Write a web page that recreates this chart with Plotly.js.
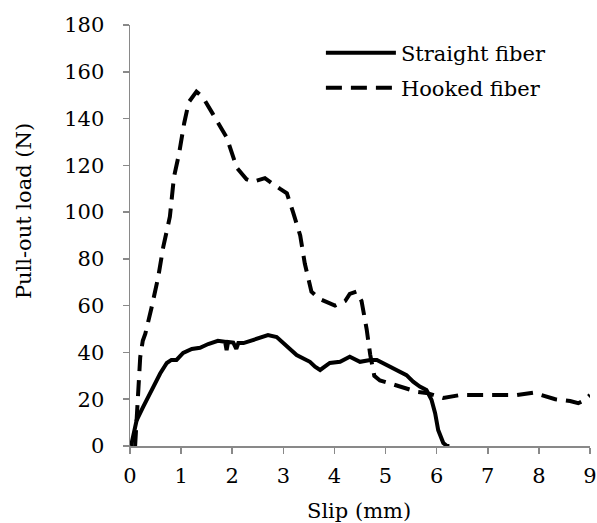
<!DOCTYPE html>
<html>
<head>
<meta charset="utf-8">
<script src="https://cdn.plot.ly/plotly-3.0.1.min.js"></script>
<style>
html,body{margin:0;padding:0;background:#fff;}
</style>
</head>
<body>
<div id="chart" style="width:597px;height:523px;"></div>
<script>
const straightX = [0.02,0.13,0.26,0.42,0.59,0.72,0.81,0.91,1.04,1.21,1.37,1.53,1.72,1.86,1.89,1.92,2.02,2.08,2.12,2.22,2.41,2.61,2.70,2.87,3.07,3.26,3.52,3.62,3.72,3.91,4.11,4.30,4.50,4.70,4.83,5.02,5.15,5.41,5.54,5.67,5.80,5.90,5.97,6.03,6.13,6.20,6.25];
const straightY = [0,11,16.8,24,31,35.5,36.8,36.8,39.8,41.5,42,43.6,45,44.6,41,44.5,44.2,41.5,44,44,45.3,46.7,47.4,46.6,42.5,38.9,36,33.9,32.5,35.5,36,38.2,36,36.8,36.8,34.6,33.3,30.3,27.5,25.4,23.9,19.7,14,6.8,1.3,0,0];
const hookedX = [0.10,0.15,0.2,0.25,0.3,0.42,0.55,0.65,0.78,0.86,0.96,1.06,1.15,1.30,1.43,1.62,1.89,2.09,2.28,2.41,2.64,2.93,3.07,3.19,3.33,3.42,3.55,3.70,3.91,4.01,4.21,4.30,4.43,4.53,4.63,4.70,4.78,4.89,5.05,5.34,5.61,5.80,6.03,6.13,6.46,6.72,7.10,7.24,7.57,7.89,8.15,8.32,8.61,8.77,8.90,9.0];
const hookedY = [0,20,38,45,48,59,72,85,98,115,125,138,147,151.5,149,142,132,119,114,113,114.5,110,108,100,90,78,66,63,61,60,62,65,66,62,50,39,30,28,27,25,23.2,22.7,21,20.5,21.8,21.8,21.8,21.4,21.8,22.8,21,20,19.2,18.3,19.7,21.8];
const xTicks = [0,1,2,3,4,5,6,7,8,9];
const yTicks = [0,20,40,60,80,100,120,140,160,180];
const seriesNames = ['Straight fiber','Hooked fiber'];
const xTitle = 'Slip (mm)';
const yTitle = 'Pull-out load (N)';

function mkFont(){ return {family:'DejaVu Serif', size:21, color:'#000'}; }
const traces = [
  {x:straightX, y:straightY, name:seriesNames[0], mode:'lines', line:{color:'#000', width:4}, legend:'legend'},
  {x:hookedX, y:hookedY, name:seriesNames[1], mode:'lines', line:{color:'#000', width:4, dash:'16px,9px'}, legend:'legend2'}
];
function axisCommon(){ return {showgrid:false, zeroline:false, showline:true, linecolor:'#898989', linewidth:1.5,
  ticks:'outside', ticklen:6, tickcolor:'#898989', tickwidth:1.5, tickfont:mkFont(), automargin:false}; }
const layout = {
  width:597, height:523,
  margin:{l:130, r:7, t:25, b:77},
  paper_bgcolor:'#fff', plot_bgcolor:'#fff',
  font:mkFont(),
  showlegend:true,
  legend:{x:0.415, y:0.9335, xanchor:'left', yanchor:'middle', font:mkFont(), itemwidth:70, bgcolor:'rgba(0,0,0,0)'},
  legend2:{x:0.415, y:0.850, xanchor:'left', yanchor:'middle', font:mkFont(), itemwidth:70, bgcolor:'rgba(0,0,0,0)'},
  xaxis:Object.assign(axisCommon(), {range:[0,9], tickvals:xTicks, ticktext:xTicks.map(String), ticklabelstandoff:4}),
  yaxis:Object.assign(axisCommon(), {range:[0,180], tickvals:yTicks, ticktext:yTicks.map(String), ticklabelstandoff:14}),
  annotations:[
    {text:xTitle, xref:'paper', yref:'paper', x:0.497, y:-0.154, xanchor:'center', yanchor:'middle', showarrow:false, font:mkFont()},
    {text:yTitle, xref:'paper', yref:'paper', x:-0.2304, y:0.558, xanchor:'center', yanchor:'middle', textangle:-90, showarrow:false, font:mkFont()}
  ]
};
Plotly.newPlot('chart', traces, layout, {staticPlot:true, displayModeBar:false});
</script>
</body>
</html>
